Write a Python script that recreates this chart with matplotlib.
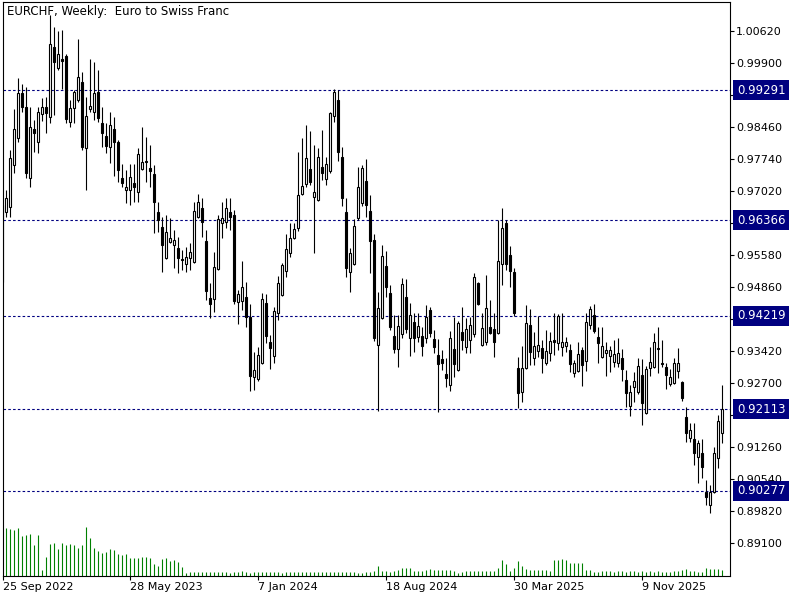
import matplotlib
matplotlib.use('Agg')
import matplotlib.pyplot as plt
import matplotlib.transforms as mtransforms
import numpy as np

# EURCHF weekly candles (first one is cut by the left edge)
opens = [
    0.9671,
    0.9656, 0.9666, 0.9761, 0.9821, 0.9923, 0.9891, 0.9731, 0.9842, 0.9812, 0.9875,
    0.9891, 0.9869, 1.0026, 0.9979, 0.9999, 1.0006, 0.9857, 0.9889, 0.9907, 0.9947,
    0.9799, 0.9887, 0.9880, 0.9925, 0.9855, 0.9826, 0.9801, 0.9842, 0.9812, 0.9731,
    0.9704, 0.9704, 0.9720, 0.9700, 0.9752, 0.9770, 0.9754, 0.9740, 0.9655, 0.9621,
    0.9552, 0.9588, 0.9581, 0.9574, 0.9549, 0.9538, 0.9552, 0.9543, 0.9644, 0.9664,
    0.9590, 0.9462, 0.9459, 0.9527, 0.9630, 0.9633, 0.9655, 0.9648, 0.9453, 0.9455,
    0.9464, 0.9419, 0.9284, 0.9279, 0.9315, 0.9450, 0.9363, 0.9331, 0.9428, 0.9468,
    0.9522, 0.9563, 0.9596, 0.9619, 0.9696, 0.9718, 0.9752, 0.9689, 0.9682, 0.9756,
    0.9729, 0.9747, 0.9871, 0.9907, 0.9779, 0.9655, 0.9520, 0.9538, 0.9642, 0.9675,
    0.9725, 0.9657, 0.9592, 0.9356, 0.9417, 0.9534, 0.9473, 0.9376, 0.9347, 0.9381,
    0.9464, 0.9372, 0.9408, 0.9374, 0.9376, 0.9372, 0.9435, 0.9369, 0.9333, 0.9324,
    0.9291, 0.9266, 0.9347, 0.9300, 0.9385, 0.9351, 0.9367, 0.9381, 0.9495, 0.9356,
    0.9363, 0.9396, 0.9392, 0.9383, 0.9538, 0.9630, 0.9558, 0.9520, 0.9304, 0.9250,
    0.9304, 0.9401, 0.9327, 0.9342, 0.9349, 0.9315, 0.9338, 0.9367, 0.9360, 0.9351,
    0.9354, 0.9345, 0.9293, 0.9297, 0.9345, 0.9320, 0.9401, 0.9423, 0.9374, 0.9329,
    0.9338, 0.9331, 0.9318, 0.9315, 0.9327, 0.9277, 0.9219, 0.9261, 0.9250, 0.9288,
    0.9203, 0.9304, 0.9306, 0.9349, 0.9315, 0.9306, 0.9268, 0.9270, 0.9297, 0.9273,
    0.9194, 0.9147, 0.9145, 0.9104, 0.9113, 0.9025, 0.8996, 0.9025, 0.9102, 0.9158,
]
highs = [
    0.9687,
    0.9704, 0.9794, 0.9887, 0.9956, 0.9943, 0.9936, 0.9891, 0.9862, 0.9891, 0.9911,
    0.9914, 1.0098, 1.0071, 1.0062, 1.0064, 1.0010, 0.9907, 0.9929, 1.0044, 0.9970,
    0.9914, 0.9999, 0.9992, 0.9974, 0.9891, 0.9855, 0.9880, 0.9869, 0.9817, 0.9763,
    0.9749, 0.9763, 0.9763, 0.9799, 0.9846, 0.9824, 0.9806, 0.9761, 0.9678, 0.9644,
    0.9648, 0.9642, 0.9615, 0.9599, 0.9570, 0.9576, 0.9585, 0.9678, 0.9696, 0.9687,
    0.9615, 0.9495, 0.9565, 0.9648, 0.9678, 0.9687, 0.9687, 0.9660, 0.9480, 0.9545,
    0.9498, 0.9448, 0.9340, 0.9351, 0.9473, 0.9471, 0.9378, 0.9441, 0.9511, 0.9540,
    0.9606, 0.9630, 0.9630, 0.9790, 0.9821, 0.9851, 0.9837, 0.9806, 0.9799, 0.9839,
    0.9779, 0.9880, 0.9932, 0.9929, 0.9801, 0.9687, 0.9574, 0.9639, 0.9756, 0.9761,
    0.9774, 0.9693, 0.9606, 0.9475, 0.9581, 0.9567, 0.9491, 0.9423, 0.9423, 0.9507,
    0.9504, 0.9450, 0.9428, 0.9428, 0.9396, 0.9446, 0.9441, 0.9390, 0.9369, 0.9345,
    0.9327, 0.9387, 0.9419, 0.9410, 0.9441, 0.9417, 0.9419, 0.9518, 0.9498, 0.9428,
    0.9513, 0.9457, 0.9428, 0.9637, 0.9664, 0.9637, 0.9579, 0.9529, 0.9329, 0.9354,
    0.9446, 0.9437, 0.9385, 0.9421, 0.9367, 0.9390, 0.9385, 0.9428, 0.9426, 0.9428,
    0.9374, 0.9358, 0.9322, 0.9363, 0.9351, 0.9428, 0.9444, 0.9448, 0.9396, 0.9396,
    0.9363, 0.9354, 0.9367, 0.9372, 0.9347, 0.9300, 0.9266, 0.9295, 0.9327, 0.9324,
    0.9309, 0.9351, 0.9383, 0.9396, 0.9367, 0.9315, 0.9302, 0.9327, 0.9349, 0.9275,
    0.9217, 0.9181, 0.9181, 0.9142, 0.9145, 0.9052, 0.9041, 0.9127, 0.9199, 0.9266,
]
lows = [
    0.9495,
    0.9644, 0.9644, 0.9743, 0.9812, 0.9880, 0.9731, 0.9711, 0.9790, 0.9788, 0.9860,
    0.9833, 0.9855, 0.9873, 0.9974, 0.9932, 0.9855, 0.9846, 0.9855, 0.9902, 0.9794,
    0.9704, 0.9880, 0.9862, 0.9857, 0.9801, 0.9788, 0.9765, 0.9736, 0.9722, 0.9711,
    0.9675, 0.9671, 0.9678, 0.9678, 0.9749, 0.9722, 0.9711, 0.9608, 0.9610, 0.9520,
    0.9550, 0.9585, 0.9529, 0.9518, 0.9525, 0.9520, 0.9525, 0.9541, 0.9642, 0.9599,
    0.9457, 0.9417, 0.9430, 0.9525, 0.9596, 0.9619, 0.9615, 0.9448, 0.9403, 0.9435,
    0.9396, 0.9252, 0.9255, 0.9275, 0.9313, 0.9360, 0.9302, 0.9315, 0.9412, 0.9466,
    0.9509, 0.9554, 0.9594, 0.9612, 0.9694, 0.9711, 0.9716, 0.9563, 0.9680, 0.9727,
    0.9716, 0.9743, 0.9857, 0.9770, 0.9669, 0.9509, 0.9475, 0.9536, 0.9637, 0.9669,
    0.9644, 0.9518, 0.9365, 0.9208, 0.9415, 0.9464, 0.9390, 0.9338, 0.9306, 0.9372,
    0.9383, 0.9331, 0.9340, 0.9363, 0.9331, 0.9360, 0.9374, 0.9338, 0.9205, 0.9300,
    0.9261, 0.9252, 0.9284, 0.9298, 0.9345, 0.9338, 0.9338, 0.9374, 0.9446, 0.9354,
    0.9356, 0.9381, 0.9329, 0.9381, 0.9491, 0.9525, 0.9486, 0.9421, 0.9214, 0.9228,
    0.9302, 0.9311, 0.9311, 0.9329, 0.9293, 0.9311, 0.9320, 0.9333, 0.9345, 0.9331,
    0.9340, 0.9295, 0.9284, 0.9295, 0.9264, 0.9297, 0.9392, 0.9383, 0.9315, 0.9327,
    0.9286, 0.9295, 0.9306, 0.9306, 0.9275, 0.9217, 0.9196, 0.9228, 0.9246, 0.9176,
    0.9201, 0.9286, 0.9304, 0.9293, 0.9306, 0.9257, 0.9264, 0.9268, 0.9282, 0.9230,
    0.9138, 0.9138, 0.9086, 0.9046, 0.9057, 0.8996, 0.8978, 0.9023, 0.9079, 0.9136,
]
closes = [
    0.9498,
    0.9687, 0.9776, 0.9842, 0.9923, 0.9891, 0.9743, 0.9846, 0.9833, 0.9880, 0.9891,
    0.9878, 1.0033, 0.9992, 1.0010, 0.9995, 0.9864, 0.9889, 0.9925, 0.9959, 0.9801,
    0.9871, 0.9893, 0.9923, 0.9866, 0.9833, 0.9803, 0.9851, 0.9812, 0.9749, 0.9720,
    0.9711, 0.9734, 0.9711, 0.9785, 0.9767, 0.9767, 0.9747, 0.9678, 0.9637, 0.9581,
    0.9610, 0.9596, 0.9592, 0.9552, 0.9547, 0.9554, 0.9565, 0.9657, 0.9678, 0.9633,
    0.9477, 0.9448, 0.9531, 0.9639, 0.9642, 0.9664, 0.9644, 0.9455, 0.9471, 0.9486,
    0.9419, 0.9286, 0.9300, 0.9333, 0.9459, 0.9376, 0.9349, 0.9432, 0.9495, 0.9536,
    0.9572, 0.9596, 0.9617, 0.9693, 0.9713, 0.9776, 0.9722, 0.9700, 0.9779, 0.9743,
    0.9763, 0.9878, 0.9925, 0.9790, 0.9687, 0.9529, 0.9563, 0.9624, 0.9711, 0.9754,
    0.9671, 0.9590, 0.9372, 0.9439, 0.9556, 0.9486, 0.9396, 0.9347, 0.9399, 0.9493,
    0.9392, 0.9423, 0.9372, 0.9399, 0.9354, 0.9419, 0.9383, 0.9351, 0.9313, 0.9315,
    0.9282, 0.9372, 0.9313, 0.9405, 0.9367, 0.9392, 0.9401, 0.9509, 0.9448, 0.9394,
    0.9439, 0.9383, 0.9363, 0.9545, 0.9619, 0.9538, 0.9522, 0.9428, 0.9248, 0.9304,
    0.9405, 0.9340, 0.9354, 0.9356, 0.9327, 0.9342, 0.9365, 0.9363, 0.9421, 0.9363,
    0.9363, 0.9313, 0.9315, 0.9336, 0.9311, 0.9408, 0.9437, 0.9387, 0.9360, 0.9354,
    0.9345, 0.9345, 0.9336, 0.9338, 0.9302, 0.9248, 0.9250, 0.9275, 0.9309, 0.9226,
    0.9302, 0.9318, 0.9363, 0.9347, 0.9313, 0.9288, 0.9284, 0.9315, 0.9315, 0.9237,
    0.9158, 0.9165, 0.9113, 0.9136, 0.9082, 0.9014, 0.9025, 0.9113, 0.9185, 0.9212,
]
# tick volume (relative units)
tick_volume = [
    48,
    48, 47, 46, 48, 40, 41, 42, 31, 41, 6,
    19, 32, 33, 27, 33, 31, 32, 31, 28, 31,
    49, 38, 28, 25, 23, 24, 27, 26, 22, 21,
    22, 18, 18, 18, 19, 19, 18, 12, 10, 17,
    18, 15, 16, 14, 9, 3, 4, 4, 4, 4,
    4, 4, 4, 4, 4, 4, 3, 4, 4, 5,
    4, 3, 4, 4, 4, 4, 4, 4, 4, 3,
    4, 4, 4, 4, 4, 4, 4, 4, 4, 4,
    4, 4, 4, 4, 4, 4, 4, 4, 3, 3,
    4, 4, 5, 10, 5, 5, 4, 5, 6, 8,
    8, 8, 5, 5, 5, 6, 7, 6, 6, 6,
    6, 6, 5, 3, 4, 5, 5, 5, 5, 5,
    5, 5, 5, 8, 16, 12, 5, 8, 15, 10,
    7, 6, 6, 6, 6, 6, 5, 16, 16, 17,
    16, 13, 13, 13, 13, 6, 6, 4, 4, 5,
    5, 5, 4, 5, 5, 4, 5, 5, 4, 5,
    4, 5, 4, 5, 4, 4, 4, 5, 5, 6,
    7, 5, 5, 4, 4, 8, 7, 7, 7, 6,
]

level_lines = [0.99291, 0.96366, 0.94219, 0.92113, 0.90277]
price_ticks = [1.00620, 0.99900, 0.99180, 0.98460, 0.97740, 0.97020, 0.96300,
               0.95580, 0.94860, 0.94140, 0.93420, 0.92700, 0.91980, 0.91260,
               0.90540, 0.89820, 0.89100]
date_labels = ['25 Sep 2022', '28 May 2023', '7 Jan 2024', '18 Aug 2024',
               '30 Mar 2025', '9 Nov 2025']
date_bars = [-0.75, 31, 63, 95, 127, 159]

NAVY = '#000080'

fig = plt.figure(figsize=(8, 6), dpi=100)
ax = fig.add_axes([3 / 800, 24 / 600, 727 / 800, 574 / 600])

o = np.array(opens)
h = np.array(highs)
l = np.array(lows)
c = np.array(closes)
x = np.arange(len(o)) - 1
up = c >= o

# volume histogram sits at the bottom of the price window
VOL_TOP = 574.0
ax.vlines(x, 0, np.array(tick_volume) / VOL_TOP, transform=ax.get_xaxis_transform(),
          color='#008000', linewidth=0.8, zorder=1)

for lev in level_lines:
    ax.axhline(lev, color=NAVY, linewidth=0.8, linestyle=(0, (2.3, 2.0)), zorder=1.5)

# candles
ax.vlines(x, l, h, color='black', linewidth=0.8, zorder=2)
body = c - o
body = np.where(np.abs(body) < 0.00004, 0.00004, body)
ax.bar(x, body, bottom=o, width=0.5, color=np.where(up, 'white', 'black'),
       edgecolor='black', linewidth=0.8, zorder=3)

ax.set_xlim(-0.75, 181)
ax.set_ylim(0.88365, 1.01272)

ax.yaxis.tick_right()
ax.set_yticks(price_ticks)
ax.set_yticklabels([f'{v:.5f}' for v in price_ticks])
ax.tick_params(axis='y', direction='out', length=3, width=0.8, pad=1.5, labelsize=8)

ax.set_xticks(date_bars)
ax.set_xticklabels(date_labels)
for t in ax.get_xticklabels():
    t.set_ha('left')
ax.tick_params(axis='x', direction='out', length=3, width=0.8, pad=1.5, labelsize=8)

for sp in ax.spines.values():
    sp.set_linewidth(0.8)
    sp.set_color('black')

# price labels of the horizontal lines, drawn over the axis labels
trans = mtransforms.blended_transform_factory(ax.transAxes, ax.transData)
for lev in level_lines:
    ax.text(1.0096, lev, f'{lev:.5f}', transform=trans, ha='left', va='center',
            fontsize=8.5, color='white', clip_on=False, zorder=10,
            bbox=dict(boxstyle='square,pad=0.3', fc=NAVY, ec='none'))

fig.text(7 / 800, 1 - 11 / 600, 'EURCHF, Weekly:  Euro to Swiss Franc',
         fontsize=8.5, ha='left', va='center')

fig.savefig('out.png', dpi=100)
